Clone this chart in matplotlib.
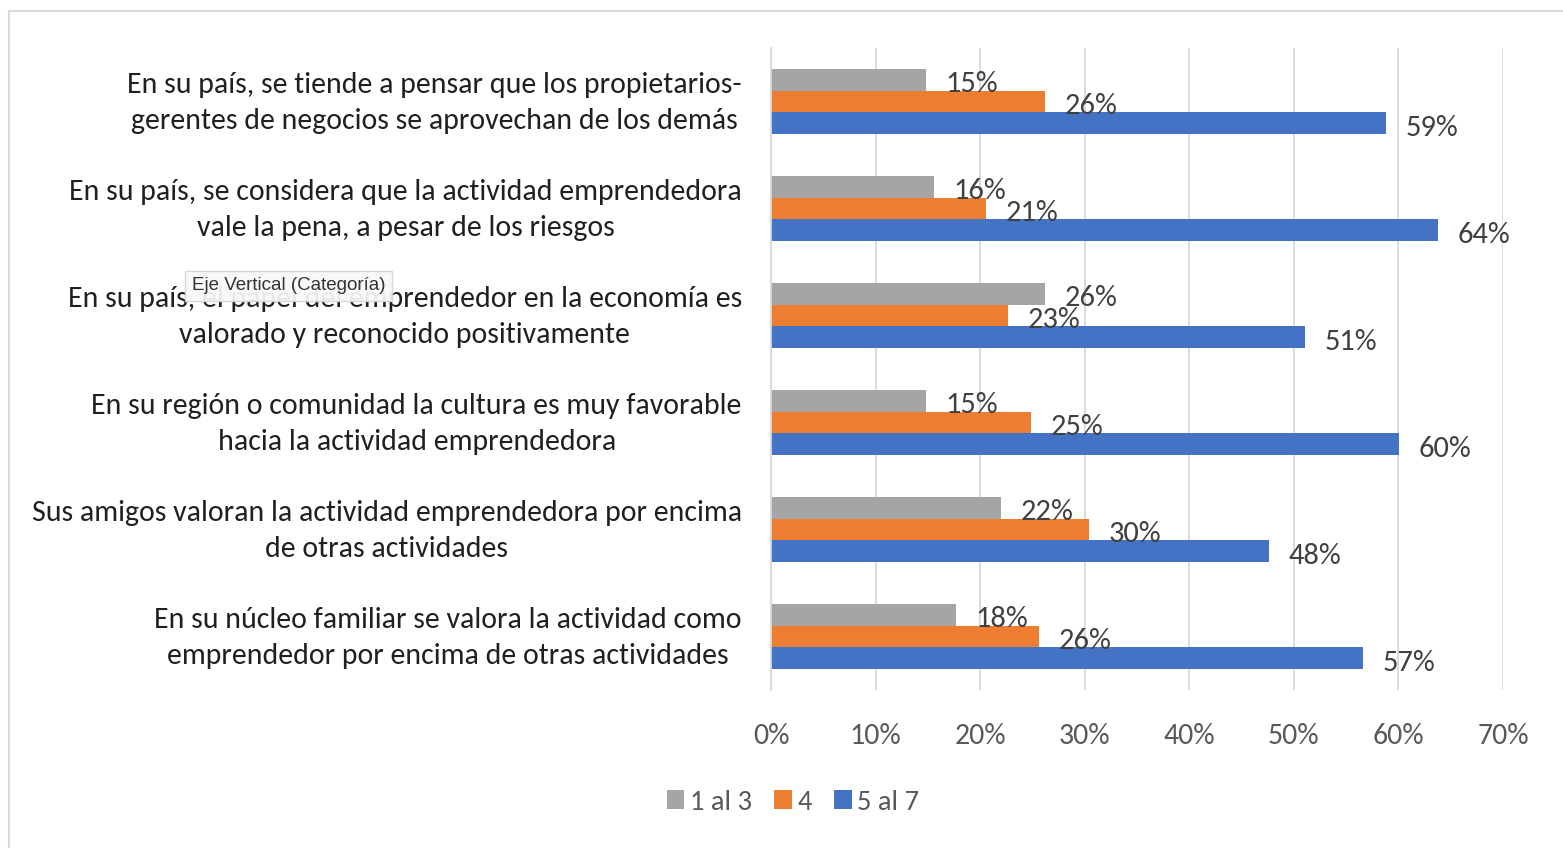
import matplotlib.pyplot as plt
import numpy as np
from matplotlib import font_manager
from matplotlib.patches import Patch
from matplotlib.ticker import PercentFormatter

# preguntas, de arriba hacia abajo
categorias = [
    'En su país, se tiende a pensar que los propietarios-\ngerentes de negocios se aprovechan de los demás',
    'En su país, se considera que la actividad emprendedora\nvale la pena, a pesar de los riesgos',
    'En su país, el papel del emprendedor en la economía es\nvalorado y reconocido positivamente',
    'En su región o comunidad la cultura es muy favorable\nhacia la actividad emprendedora',
    'Sus amigos valoran la actividad emprendedora por encima\nde otras actividades',
    'En su núcleo familiar se valora la actividad como\nemprendedor por encima de otras actividades',
]
series = ['1 al 3', '4', '5 al 7']
uno_al_tres = [14.8, 15.6, 26.2, 14.8, 22.0, 17.7]
cuatro = [26.2, 20.6, 22.7, 24.9, 30.4, 25.6]
cinco_al_siete = [58.8, 63.8, 51.1, 60.1, 47.6, 56.6]
colores = ['#A5A5A5', '#ED7D31', '#4472C4']

# fuente parecida a Calibri si está disponible
disponibles = {f.name for f in font_manager.fontManager.ttflist}
for nombre in ['Carlito', 'Liberation Sans Narrow', 'Open Sans', 'DejaVu Sans']:
    if nombre in disponibles:
        fuente = nombre
        break
plt.rcParams['font.family'] = [fuente, 'DejaVu Sans']

fig = plt.figure(figsize=(15.63, 8.48), dpi=100)
ax = fig.add_axes([771 / 1563, 1 - 690 / 848, 732 / 1563, 642 / 848])

y = np.arange(len(categorias))
alto = 0.205
for k, (vals, nombre, color) in enumerate(zip([uno_al_tres, cuatro, cinco_al_siete], series, colores)):
    pos = y + (k - 1) * alto
    ax.barh(pos, vals, height=alto, color=color, label=nombre)
    for p, v in zip(pos, vals):
        ax.annotate(f'{v:.0f}%', (v, p), xytext=(14, -3), textcoords='offset points',
                    ha='left', va='center', fontsize=22, color='#404040')

ax.set_xlim(0, 70)
ax.set_ylim(len(categorias) - 0.5, -0.5)
ax.set_xticks(range(0, 71, 10))
ax.xaxis.set_major_formatter(PercentFormatter(decimals=0))
ax.set_yticks(y)
ax.set_yticklabels([])
# textos de las categorías, centrados entre sí y alineados a la derecha
for yi, texto in zip(y, categorias):
    ax.annotate(texto, (0, yi), xycoords=('axes fraction', 'data'), xytext=(-21, -1),
                textcoords='offset points', ha='right', va='center', multialignment='center',
                fontsize=21.5, color='#202020', linespacing=1.5)
ax.tick_params(axis='both', length=0)
ax.tick_params(axis='x', pad=24, labelsize=21.5, labelcolor='#595959')
ax.grid(axis='x', color='#D9D9D9', linewidth=1.3)
ax.set_axisbelow(True)
for lado in ['top', 'right', 'bottom']:
    ax.spines[lado].set_visible(False)
ax.spines['left'].set_color('#D9D9D9')
ax.spines['left'].set_linewidth(1.3)

handles = [Patch(facecolor=c, label=s) for c, s in zip(colores, series)]
fig.legend(handles=handles, loc='center', bbox_to_anchor=(793 / 1563, 1 - 802 / 848), ncol=3,
           frameon=False, fontsize=20.5, labelcolor='#595959', handlelength=0.6, handleheight=0.6,
           handletextpad=0.2, columnspacing=0.8)

# marco del gráfico
fig.add_artist(plt.Line2D([9 / 1563, 1], [1 - 11 / 848, 1 - 11 / 848], color='#D9D9D9', lw=1.5))
fig.add_artist(plt.Line2D([9 / 1563, 9 / 1563], [0, 1 - 11 / 848], color='#D9D9D9', lw=1.5))

# etiqueta emergente sobre el eje vertical
fig.text(192 / 1563, 1 - 286 / 848, 'Eje Vertical (Categoría)', fontsize=13.5, color='#333333',
         family=['Liberation Sans', 'DejaVu Sans'], va='center', ha='left', zorder=10,
         bbox=dict(boxstyle='square,pad=0.35', facecolor='#F8F8F8', edgecolor='#D5D5D5', alpha=0.93))

fig.savefig('out.png', dpi=100)
